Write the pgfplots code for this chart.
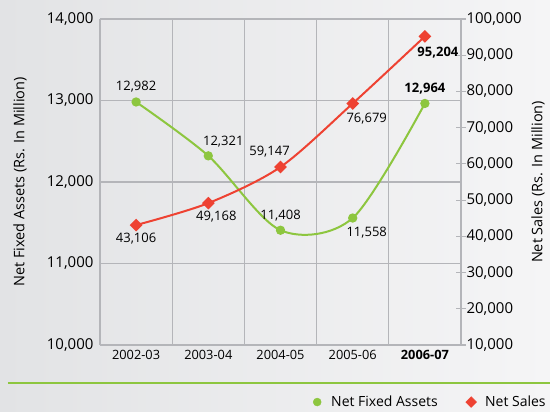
\documentclass[border=0pt]{standalone}
\usepackage{fontspec}
\setmainfont{Open Sans}
\usepackage{pgfplots}
\pgfplotsset{compat=1.18}
\usetikzlibrary{calc}
\pgfdeclarelayer{background}
\pgfsetlayers{background,main}

\definecolor{nfagreen}{RGB}{141,198,63}
\definecolor{salesred}{RGB}{238,66,50}
\definecolor{gridgray}{RGB}{180,181,185}
\definecolor{bgdark}{RGB}{226,227,229}
\definecolor{bglight}{RGB}{245,245,246}

\pgfplotsset{
  common/.style={
    scale only axis, width=361pt, height=326pt,
    xmin=-0.5, xmax=4.5,
    axis line style={gridgray, line width=1.3pt},
    /pgf/number format/fixed,
    /pgf/number format/1000 sep={,},
    /pgf/number format/assume math mode=true,
  },
}

\begin{document}
\begin{tikzpicture}
  % left axis: net fixed assets
  \begin{axis}[
    common, name=main,
    ymin=10000, ymax=14000,
    xtick={0,1,2,3,4},
    xticklabels={2002-03,2003-04,2004-05,2005-06,\textbf{2006-07}},
    minor xtick={-0.5,0.5,1.5,2.5,3.5,4.5},
    ytick={10000,11000,12000,13000,14000},
    scaled y ticks=false,
    xminorgrids=true, ymajorgrids=true,
    grid style={gridgray, line width=1.3pt},
    minor grid style={gridgray, line width=1.3pt},
    axis x line*=bottom, axis y line*=left,
    major tick length=0pt, minor tick length=0pt,
    xticklabel style={font=\fontsize{12.8}{14}\selectfont, yshift=-2pt},
    yticklabel style={font=\fontsize{15}{17}\selectfont, xshift=-3pt},
    every axis y label/.style={at={(axis description cs:-0.2216,0.5)},
      rotate=90, anchor=center, font=\fontsize{14.5}{16}\selectfont},
    ylabel={Net Fixed Assets (Rs. In Million)},
  ]
  \addplot[nfagreen, line width=2pt, smooth, mark=*, mark size=3.6pt,
    mark options={solid}]
    coordinates {(0,12982)(1,12321)(2,11408)(3,11558)(4,12964)};
  \begin{scope}[font=\fontsize{13}{15}\selectfont]
    \node at (axis cs:0,12982) [yshift=15pt] {12,982};
    \node at (axis cs:1,12321) [xshift=15pt, yshift=14pt] {12,321};
    \node at (axis cs:2,11408) [yshift=15pt] {11,408};
    \node at (axis cs:3,11558) [xshift=14pt, yshift=-15pt] {11,558};
    \node at (axis cs:4,12964) [yshift=15pt] {\textbf{12,964}};
  \end{scope}
  \end{axis}

  % right axis: net sales
  \begin{axis}[
    common, at={(main.south west)}, anchor=south west,
    ymin=10000, ymax=100000,
    axis x line=none, axis y line*=right,
    ytick={10000,20000,30000,40000,50000,60000,70000,80000,90000,100000},
    scaled y ticks=false,
    major tick length=10pt, tick align=center,
    tick style={gridgray, line width=1.2pt},
    yticklabel style={font=\fontsize{15}{17}\selectfont, xshift=-3pt},
    every axis y label/.style={at={(axis description cs:1.2133,0.5)},
      rotate=90, anchor=center, font=\fontsize{14.5}{16}\selectfont},
    ylabel={Net Sales (Rs. In Million)},
    legend columns=2,
    legend image code/.code={\path[draw=none, fill=none] (0pt,0pt) -- (16pt,0pt);
      \draw[#1] plot coordinates {(4pt,0pt)};},
    legend style={at={(axis description cs:1.249,-0.175)}, anchor=east,
      draw=none, fill=none, font=\fontsize{14}{16}\selectfont,
      /tikz/every even column/.append style={column sep=26pt}},
  ]
  \addlegendimage{only marks, mark=*, mark size=4pt, color=nfagreen}
  \addlegendentry{Net Fixed Assets}
  \addlegendimage{only marks, mark=square*, mark size=3.8pt, color=salesred,
    mark options={rotate=45}}
  \addlegendentry{Net Sales}
  \addplot[salesred, line width=2pt, smooth, mark=square*, mark size=3.5pt,
    mark options={solid, rotate=45}, forget plot]
    coordinates {(0,43106)(1,49168)(2,59147)(3,76679)(4,95204)};
  \begin{scope}[font=\fontsize{13}{15}\selectfont]
    \node at (axis cs:0,43106) [yshift=-14pt] {43,106};
    \node at (axis cs:1,49168) [xshift=8pt, yshift=-14pt] {49,168};
    \node at (axis cs:2,59147) [xshift=-11pt, yshift=15pt] {59,147};
    \node at (axis cs:3,76679) [xshift=14pt, yshift=-15pt] {76,679};
    \node at (axis cs:4,95204) [xshift=13pt, yshift=-16pt] {\textbf{95,204}};
  \end{scope}
  \end{axis}

  \coordinate (o) at (main.south west);
  \draw[nfagreen, line width=2.5pt] ($(o)+(-92pt,-38pt)$) -- ($(o)+(450pt,-38pt)$);
  \begin{pgfonlayer}{background}
    \shade[left color=bgdark, right color=bglight]
      ($(o)+(-100pt,-67pt)$) rectangle ($(o)+(450pt,345pt)$);
  \end{pgfonlayer}
  \pgfresetboundingbox
  \path[use as bounding box] ($(o)+(-100pt,-67pt)$) rectangle ($(o)+(450pt,345pt)$);
\end{tikzpicture}
\end{document}
